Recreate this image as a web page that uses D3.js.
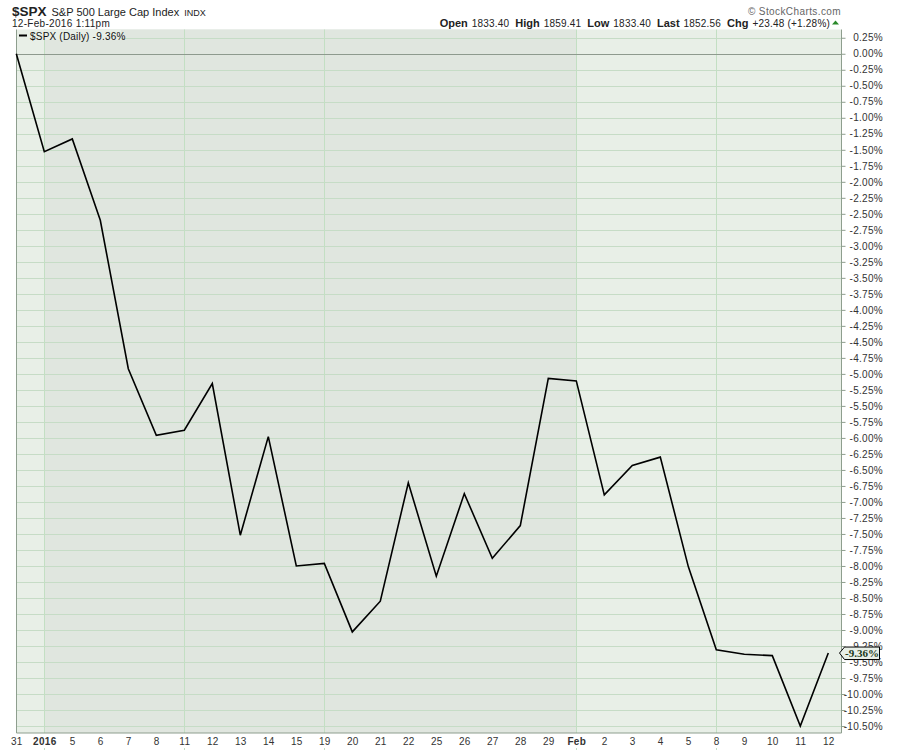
<!DOCTYPE html>
<html>
<head>
<meta charset="utf-8">
<script src="https://cdn.jsdelivr.net/npm/d3@7"></script>
<style>
  html, body { margin: 0; padding: 0; background: #ffffff; }
  svg { display: block; font-family: "Liberation Sans", Arial, sans-serif; }
</style>
</head>
<body>
<svg id="chart" width="900" height="750"></svg>
<script>
// ---------- data ----------
const dateKeys = ["2015-12-31","2016-01-04","2016-01-05","2016-01-06","2016-01-07","2016-01-08",
  "2016-01-11","2016-01-12","2016-01-13","2016-01-14","2016-01-15","2016-01-19","2016-01-20",
  "2016-01-21","2016-01-22","2016-01-25","2016-01-26","2016-01-27","2016-01-28","2016-01-29",
  "2016-02-01","2016-02-02","2016-02-03","2016-02-04","2016-02-05","2016-02-08","2016-02-09",
  "2016-02-10","2016-02-11","2016-02-12"];
const dateLabels = ["31","2016","5","6","7","8","11","12","13","14","15","19","20","21","22","25",
  "26","27","28","29","Feb","2","3","4","5","8","9","10","11","12"];
const boldLabels = ["2016","Feb"];
const pctChange = [0.00,-1.53,-1.33,-2.60,-4.92,-5.96,-5.88,-5.15,-7.52,-5.98,-8.00,-7.96,-9.03,
  -8.55,-6.70,-8.16,-6.87,-7.88,-7.37,-5.07,-5.11,-6.89,-6.43,-6.30,-8.01,-9.31,-9.38,-9.40,-10.50,-9.36];
const verticalGridDates = ["2016-01-04","2016-01-11","2016-01-19","2016-02-01","2016-02-08"];
const shadedBand = ["2016-01-04","2016-02-01"];
const yTickValues = d3.range(25, -1051, -25).map(v => v / 100);
const lastValue = -9.36;
const headerStats = [["Open","1833.40"],["High","1859.41"],["Low","1833.40"],["Last","1852.56"],["Chg","+23.48 (+1.28%)"]];

// ---------- layout ----------
const plot = { left: 16.5, right: 841.5, top: 29.5, bottom: 733 };
const svg = d3.select("#chart");

const x = d3.scalePoint().domain(dateKeys).range([16.3, 828.3]);
const y = d3.scaleLinear().domain([0.379, -10.609]).range([plot.top, plot.bottom]);

// background
svg.append("rect").attr("x", plot.left).attr("y", plot.top)
  .attr("width", plot.right - plot.left).attr("height", plot.bottom - plot.top)
  .attr("fill", "#e8efe7");
svg.append("rect").attr("x", x(shadedBand[0])).attr("y", plot.top)
  .attr("width", x(shadedBand[1]) - x(shadedBand[0])).attr("height", plot.bottom - plot.top)
  .attr("fill", "#e0e6df");

// horizontal grid
svg.append("g").selectAll("line").data(yTickValues.filter(v => v !== 0)).join("line")
  .attr("x1", plot.left).attr("x2", plot.right)
  .attr("y1", d => Math.round(y(d)) + 0.5).attr("y2", d => Math.round(y(d)) + 0.5)
  .attr("stroke", "#c6dcc6").attr("stroke-width", 1);
// vertical grid
svg.append("g").selectAll("line").data(verticalGridDates).join("line")
  .attr("x1", d => Math.round(x(d)) + 0.5).attr("x2", d => Math.round(x(d)) + 0.5)
  .attr("y1", plot.top).attr("y2", plot.bottom)
  .attr("stroke", "#c3dfc3").attr("stroke-width", 1);
// zero line
svg.append("line").attr("x1", plot.left).attr("x2", plot.right)
  .attr("y1", Math.round(y(0)) + 0.5).attr("y2", Math.round(y(0)) + 0.5)
  .attr("stroke", "#8e9a8e").attr("stroke-width", 1);

// border (left, right, bottom)
svg.append("path")
  .attr("d", `M${plot.left},${plot.top}V${plot.bottom}H${plot.right}V${plot.top}`)
  .attr("fill", "none").attr("stroke", "#8e9e8e").attr("stroke-width", 1);

// line
const line = d3.line().x((d, i) => x(dateKeys[i])).y(d => y(d));
svg.append("path").datum(pctChange).attr("d", line)
  .attr("fill", "none").attr("stroke", "#000").attr("stroke-width", 1.6)
  .attr("stroke-linejoin", "miter");

// right y axis
const yAxis = d3.axisRight(y).tickValues(yTickValues).tickSize(4).tickSizeOuter(0)
  .tickFormat(d => d.toFixed(2) + "%");
const gy = svg.append("g").attr("transform", `translate(${plot.right},0)`).call(yAxis);
gy.select(".domain").remove();
gy.selectAll(".tick line").attr("stroke", "#8e9e8e");
gy.selectAll(".tick text").attr("text-anchor", "end").attr("x", 41.5)
  .attr("fill", "#333").attr("font-size", "10px").attr("letter-spacing", "0.3px")
  .attr("font-family", "Liberation Sans, Arial, sans-serif");

// bottom x axis
const xAxis = d3.axisBottom(x).tickSize(0).tickFormat((d, i) => dateLabels[i]);
const gx = svg.append("g").attr("transform", `translate(0,${plot.bottom})`).call(xAxis);
gx.select(".domain").remove();
gx.selectAll(".tick text").attr("y", 12).attr("dy", "0")
  .attr("fill", "#333").attr("font-size", "10px")
  .attr("font-family", "Liberation Sans, Arial, sans-serif")
  .attr("font-weight", (d, i) => boldLabels.includes(dateLabels[i]) ? "bold" : "normal")
  .attr("letter-spacing", "0.3px");
// tiny ticks under grid dates
svg.append("g").selectAll("line").data(verticalGridDates).join("line")
  .attr("x1", d => Math.round(x(d)) + 0.5).attr("x2", d => Math.round(x(d)) + 0.5)
  .attr("y1", 748).attr("y2", 750).attr("stroke", "#c3dfc3");

// legend
svg.append("rect").attr("x", 17).attr("y", 30).attr("width", 104).attr("height", 10)
  .attr("fill", "#e8efe7");
svg.append("line").attr("x1", 19).attr("x2", 27).attr("y1", 35.5).attr("y2", 35.5)
  .attr("stroke", "#000").attr("stroke-width", 2);
svg.append("text").attr("x", 30).attr("y", 39.5).attr("font-size", "10px").attr("fill", "#111")
  .attr("letter-spacing", "0.2px")
  .text("$SPX (Daily) " + lastValue.toFixed(2) + "%");

// last value marker
const ly = y(lastValue);
svg.append("path")
  .attr("d", `M839.5,${ly}L844.5,${ly - 6}H879.5V${ly + 6.5}H844.5Z`)
  .attr("fill", "#e8efe7").attr("stroke", "#000").attr("stroke-width", 1);
svg.append("text").attr("x", 862).attr("y", ly + 4).attr("text-anchor", "middle")
  .attr("font-size", "11px").attr("font-weight", "bold").attr("fill", "#1a3a1a")
  .attr("font-family", "Liberation Serif, Times New Roman, serif")
  .text(lastValue.toFixed(2) + "%");

// header
const h1 = svg.append("text").attr("x", 12).attr("y", 16).attr("fill", "#222");
h1.append("tspan").attr("font-size", "13.5px").attr("font-weight", "bold").text("$SPX");
h1.append("tspan").attr("font-size", "11px").attr("dx", 5).text("S&P 500 Large Cap Index");
h1.append("tspan").attr("font-size", "9px").attr("dx", 5).text("INDX");
svg.append("text").attr("x", 12).attr("y", 27).attr("font-size", "10px").attr("fill", "#222")
  .attr("letter-spacing", "0.3px").text("12-Feb-2016 1:11pm");

svg.append("text").attr("x", 841).attr("y", 14.5).attr("text-anchor", "end")
  .attr("font-size", "10px").attr("fill", "#666").attr("letter-spacing", "0.4px")
  .text("\u00A9 StockCharts.com");

const h2 = svg.append("text").attr("x", 830).attr("y", 26.5).attr("text-anchor", "end").attr("fill", "#222");
headerStats.forEach(([k, v], i) => {
  h2.append("tspan").attr("font-weight", "bold").attr("font-size", "11px")
    .attr("dx", i === 0 ? 0 : 6).text(k);
  h2.append("tspan").attr("font-size", "10px").attr("dx", 4).attr("letter-spacing", "0.2px").text(v);
});
svg.append("path").attr("d", "M832,24.5L835.5,20.5L839,24.5Z").attr("fill", "#2a8a2a");
</script>
</body>
</html>
